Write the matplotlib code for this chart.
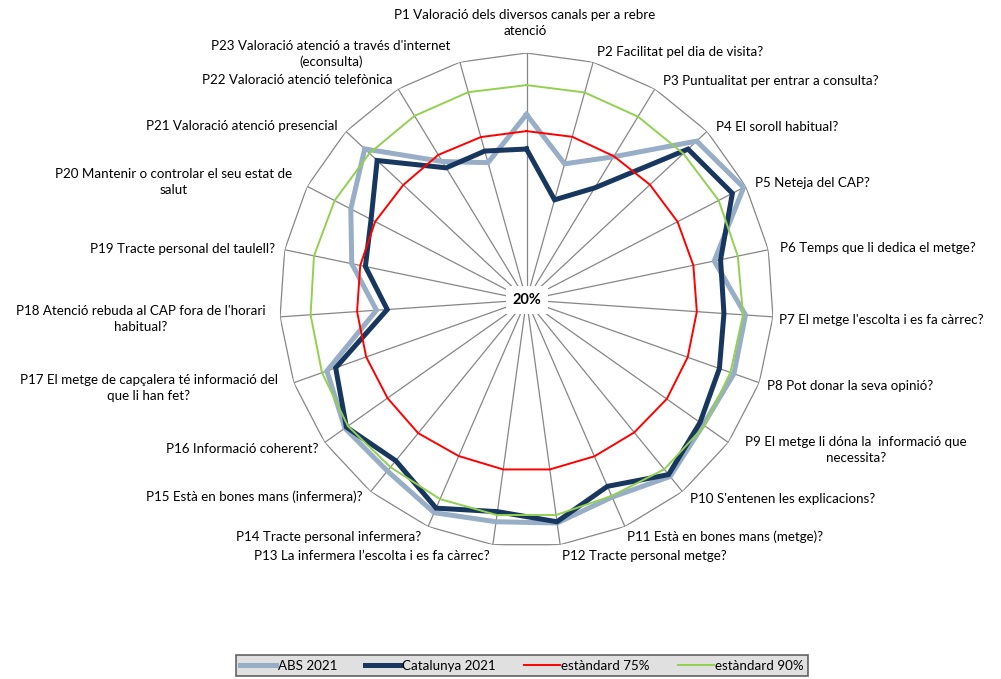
import numpy as np
import matplotlib
matplotlib.use("Agg")
import matplotlib.pyplot as plt
from matplotlib.lines import Line2D

plt.rcParams['font.family'] = ['Lato', 'DejaVu Sans']

# preguntes (P1..P23), en sentit horari des de dalt
preguntes = [
    "P1 Valoració dels diversos canals per a rebre\natenció",
    "P2 Facilitat pel dia de visita?",
    "P3 Puntualitat per entrar a consulta?",
    "P4 El soroll habitual?",
    "P5 Neteja del CAP?",
    "P6 Temps que li dedica el metge?",
    "P7 El metge l'escolta i es fa càrrec?",
    "P8 Pot donar la seva opinió?",
    "P9 El metge li dóna la  informació que\nnecessita?",
    "P10 S'entenen les explicacions?",
    "P11 Està en bones mans (metge)?",
    "P12 Tracte personal metge?",
    "P13 La infermera l’escolta i es fa càrrec?",
    "P14 Tracte personal infermera?",
    "P15 Està en bones mans (infermera)?",
    "P16 Informació coherent?",
    "P17 El metge de capçalera té informació del\nque li han fet?",
    "P18 Atenció rebuda al CAP fora de l'horari\nhabitual?",
    "P19 Tracte personal del taulell?",
    "P20 Mantenir o controlar el seu estat de\nsalut",
    "P21 Valoració atenció presencial",
    "P22 Valoració atenció telefònica",
    "P23 Valoració atenció a través d'internet\n(econsulta)",
]

abs_2021 = [80.1, 65.8, 74.3, 95.4, 99.2, 82.1, 91.1, 91.3, 90.1, 93.7, 89.6, 92.9,
            92.5, 95.1, 91.4, 92.0, 88.6, 68.7, 77.8, 84.1, 91.7, 72.5, 66.2]
catalunya_2021 = [68.9, 53.7, 62.5, 91.6, 95.1, 84.2, 84.1, 86.3, 88.8, 92.9, 85.8, 92.5,
                  89.2, 93.5, 87.1, 91.4, 85.6, 65.2, 73.3, 76.7, 86.2, 70.1, 70.1]
estandard_75 = [74.7, 74.9, 74.5, 74.7, 75.1, 75.2, 75.3, 75.4, 75.6, 75.3, 75.2, 75.4,
                75.4, 75.1, 75.6, 75.1, 75.1, 75.0, 75.0, 75.2, 74.6, 75.0, 74.8]
estandard_90 = [89.6, 89.8, 89.5, 89.5, 90.1, 89.9, 90.3, 90.1, 90.6, 90.7, 89.2, 90.3,
                90.3, 90.3, 89.8, 90.8, 90.3, 90.1, 90.3, 90.0, 89.6, 89.8, 89.9]

# posicio de les etiquetes (pixels de la imatge original) i alineacio
etiquetes_xy = [
    (525, 23, 'center'), (597, 52, 'left'), (663, 81, 'left'), (716, 127, 'left'),
    (755, 183, 'left'), (780, 248, 'left'), (779, 320, 'left'), (767, 386, 'left'),
    (856, 450, 'center'), (690, 499, 'left'), (627, 537, 'left'), (562, 556, 'left'),
    (490, 556, 'right'), (421, 537, 'right'), (363, 497, 'right'), (318, 449, 'right'),
    (149, 388, 'center'), (141, 319, 'center'), (275, 249, 'right'), (174, 182, 'center'),
    (338, 126, 'right'), (392, 80, 'right'), (331, 54, 'center'),
]

W, H = 1001, 679
fig = plt.figure(figsize=(W / 100, H / 100), dpi=100)
fig.patch.set_facecolor('white')

# eix polar: centre a (526.5, 300) px, radi 247 px
cx, cy, R = 526.5, 300, 247
ax = fig.add_axes([(cx - R) / W, 1 - (cy + R) / H, 2 * R / W, 2 * R / H], projection='polar')
ax.set_theta_zero_location('N')
ax.set_theta_direction(-1)
ax.set_ylim(20, 100)
ax.set_xticks([])
ax.set_yticks([])
ax.grid(False)
ax.spines['polar'].set_visible(False)
ax.patch.set_alpha(0)

n = len(preguntes)
theta = np.arange(n) * 2 * np.pi / n
theta_c = np.append(theta, theta[0])

# radis i poligon exterior
for t in theta:
    ax.plot([t, t], [20, 100], color='#868686', lw=0.9, zorder=1)
ax.plot(theta_c, [100] * (n + 1), color='#868686', lw=0.9, zorder=1)


def tanca(v):
    return list(v) + [v[0]]


ax.plot(theta_c, tanca(abs_2021), color='#97AEC6', lw=3.6, zorder=2, solid_joinstyle='miter')
ax.plot(theta_c, tanca(catalunya_2021), color='#17375E', lw=3.6, zorder=3, solid_joinstyle='miter')
ax.plot(theta_c, tanca(estandard_75), color='#FF0000', lw=1.4, zorder=4)
ax.plot(theta_c, tanca(estandard_90), color='#92D050', lw=1.4, zorder=5)

ax.text(0, 20, '20%', ha='center', va='center', fontsize=10.5, fontweight='bold', zorder=6,
        bbox=dict(boxstyle='square,pad=0.45', fc='white', ec='none'))

for text, (x, y, ha) in zip(preguntes, etiquetes_xy):
    fig.text(x / W, 1 - y / H, text, ha=ha, va='center', fontsize=9.6,
             multialignment='center', linespacing=1.4, color='#000000')

handles = [
    Line2D([], [], color='#97AEC6', lw=3.6),
    Line2D([], [], color='#17375E', lw=3.6),
    Line2D([], [], color='#FF0000', lw=1.4),
    Line2D([], [], color='#92D050', lw=1.4),
]
leg = fig.legend(handles, ['ABS 2021', 'Catalunya 2021', 'estàndard 75%', 'estàndard 90%'],
                 loc='upper center', bbox_to_anchor=(522 / W, 1 - 655 / H), ncol=4,
                 fontsize=9.6, frameon=True, fancybox=False, handlelength=2.7,
                 handletextpad=0.1, columnspacing=2.1, borderpad=0.35, borderaxespad=0)
leg.get_frame().set_facecolor('#D9D9D9')
leg.get_frame().set_edgecolor('#404040')
leg.get_frame().set_linewidth(1.2)

fig.savefig('out.png', dpi=100)
